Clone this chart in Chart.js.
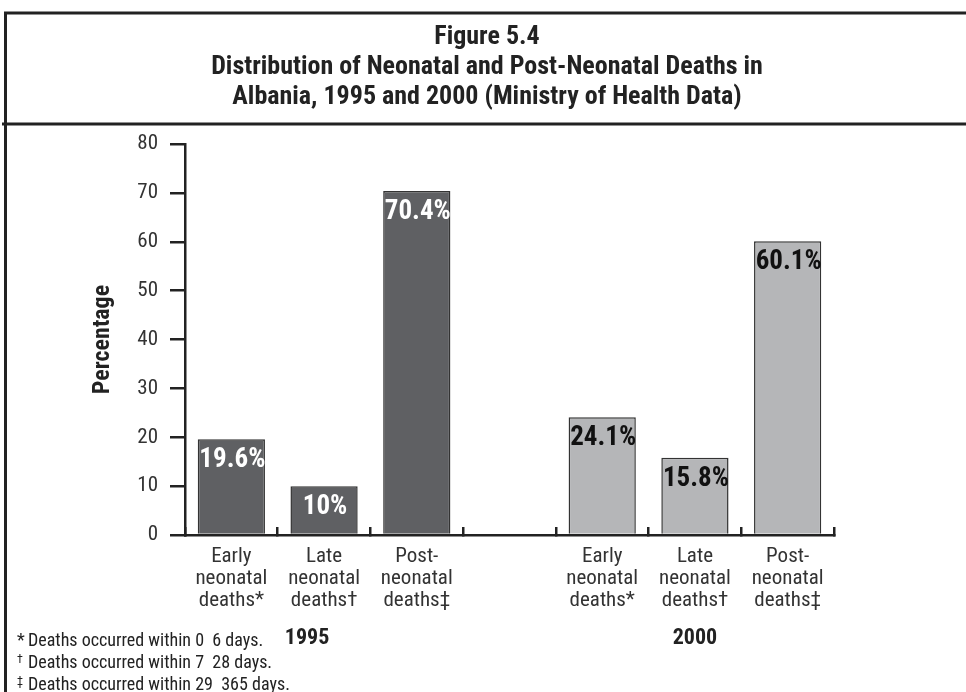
<!DOCTYPE html>
<html>
<head>
<meta charset="utf-8">
<script src="https://cdn.jsdelivr.net/npm/chart.js@4.4.1/dist/chart.umd.min.js"></script>
<style>
  html, body { margin: 0; padding: 0; background: #fff; }
  #wrap { width: 966px; height: 692px; position: relative; }
</style>
</head>
<body>
<div id="wrap"><canvas id="myChart" width="966" height="692"></canvas></div>
<script>
// values
const categories = [
  ['Early', 'neonatal', 'deaths*'],
  ['Late', 'neonatal', 'deaths\u2020'],
  ['Post-', 'neonatal', 'deaths\u2021'],
];
const years = ['1995', '2000'];
const values1995 = [19.6, 10, 70.4];
const values2000 = [24.1, 15.8, 60.1];
const yTicks = [0, 10, 20, 30, 40, 50, 60, 70, 80];

const titleLines = [
  'Figure 5.4',
  'Distribution of Neonatal and Post-Neonatal Deaths in',
  'Albania, 1995 and 2000 (Ministry of Health Data)',
];
const footnotes = [
  ['*', 'Deaths occurred within 0  6 days.'],
  ['\u2020', 'Deaths occurred within 7  28 days.'],
  ['\u2021', 'Deaths occurred within 29  365 days.'],
];

const FONT = '"Roboto Condensed", "Liberation Sans Narrow", Arial, sans-serif';
const dark = '#5f6063';
const light = '#b5b6b8';

// one blank slot between the two years
const labels = categories.concat([''], categories);
const values = values1995.concat([null], values2000);
const colors = values1995.map(() => dark).concat([dark], values2000.map(() => light));
const textColors = values1995.map(() => '#ffffff').concat(['#fff'], values2000.map(() => '#111111'));

const framePlugin = {
  id: 'frame',
  afterDraw(chart) {
    const ctx = chart.ctx;
    ctx.save();
    ctx.strokeStyle = '#222';
    ctx.lineWidth = 3;
    ctx.beginPath();
    ctx.moveTo(4, 13); ctx.lineTo(966, 13);
    ctx.moveTo(5.5, 13); ctx.lineTo(5.5, 692);
    ctx.moveTo(2, 124); ctx.lineTo(966, 124);
    ctx.stroke();

    // title
    ctx.fillStyle = '#222';
    ctx.textAlign = 'center';
    ctx.textBaseline = 'alphabetic';
    ctx.font = 'bold 26px ' + FONT;
    titleLines.forEach((t, i) => ctx.fillText(t, 487, 44 + i * 30));

    // bar value labels
    const meta = chart.getDatasetMeta(0);
    ctx.font = 'bold 27px ' + FONT;
    meta.data.forEach((bar, i) => {
      const v = values[i];
      if (v === null) return;
      ctx.fillStyle = textColors[i];
      ctx.fillText(v + '%', bar.x + 1, bar.y + 28);
    });

    // year labels under each group
    const x = chart.scales.x;
    ctx.fillStyle = '#222';
    ctx.font = 'bold 22px ' + FONT;
    ctx.fillText(years[0], x.getPixelForValue(1) - 17, 644);
    ctx.fillText(years[1], x.getPixelForValue(5), 644);

    // footnotes
    ctx.textAlign = 'left';
    footnotes.forEach((f, i) => {
      const y = 646 + i * 22;
      ctx.font = (i === 0 ? '18px ' : '12px ') + FONT;
      ctx.fillText(f[0], 17, i === 0 ? y : y - 5);
      ctx.font = '18px ' + FONT;
      ctx.fillText(f[1], 28, y);
    });
    ctx.restore();
  }
};

new Chart(document.getElementById('myChart'), {
  type: 'bar',
  data: {
    labels: labels,
    datasets: [{
      label: 'Percentage',
      data: values,
      backgroundColor: colors,
      borderColor: '#333',
      borderWidth: 1.5,
      borderSkipped: 'bottom',
      categoryPercentage: 1,
      barPercentage: 0.725,
    }]
  },
  options: {
    responsive: false,
    animation: false,
    devicePixelRatio: 1,
    layout: { padding: { top: 144, right: 132, left: 0, bottom: 0 } },
    plugins: {
      legend: { display: false },
      tooltip: { enabled: false },
      title: { display: false },
    },
    scales: {
      x: {
        offset: true,
        grid: {
          offset: true,
          drawOnChartArea: false,
          drawTicks: true,
          tickLength: -8,
          color: '#222',
          lineWidth: 2.5,
        },
        border: { display: true, color: '#222', width: 2.5 },
        ticks: {
          padding: 19,
          color: '#333',
          autoSkip: false,
          maxRotation: 0,
          font: { family: FONT, size: 21, lineHeight: 1.05 },
        },
        afterFit(scale) { scale.height = 157; },
      },
      y: {
        min: 0,
        max: 80,
        afterBuildTicks(scale) { scale.ticks = yTicks.map(v => ({ value: v })); },
        grid: {
          drawOnChartArea: false,
          drawTicks: true,
          tickLength: 15,
          color: '#222',
          lineWidth: 2.5,
        },
        border: { display: true, color: '#222', width: 2.5 },
        ticks: {
          padding: 12,
          color: '#333',
          font: { family: FONT, size: 21 },
        },
        title: {
          display: true,
          text: 'Percentage',
          color: '#222',
          font: { family: FONT, size: 24, weight: 'bold' },
          padding: { top: 89, bottom: 0 },
        },
        afterFit(scale) { scale.width = 185; },
      }
    }
  },
  plugins: [framePlugin]
});
</script>
</body>
</html>
